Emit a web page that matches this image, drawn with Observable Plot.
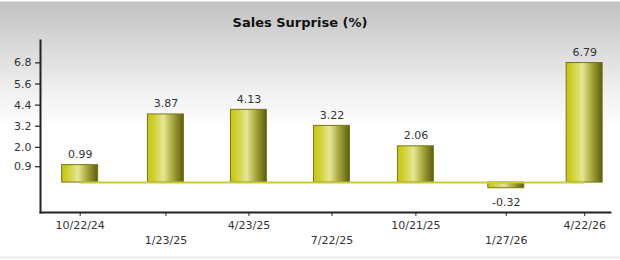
<!DOCTYPE html>
<html><head><meta charset="utf-8">
<script src="https://cdn.jsdelivr.net/npm/d3@7"></script>
<script src="https://cdn.jsdelivr.net/npm/@observablehq/plot@0.6"></script>
<style>
html,body{margin:0;padding:0;background:#fff;}
#wrap{position:relative;width:620px;height:260px;overflow:hidden;}
#title{position:absolute;top:15px;left:0;width:600px;text-align:center;font:bold 13px "DejaVu Sans",sans-serif;color:#111;line-height:16px;}
</style></head><body>
<div id="wrap"><div id="title">Sales Surprise (%)</div></div>
<script>
const dates = ["2024-10-22","2025-01-23","2025-04-23","2025-07-22","2025-10-21","2026-01-27","2026-04-22"];
const values = [0.99, 3.87, 4.13, 3.22, 2.06, -0.32, 6.79];
const yTicks = [0.9, 2.0, 3.2, 4.4, 5.6, 6.8];

const DAY = 864e5;
const halfDays = 19.5;
const data = dates.map((d, i) => ({date: new Date(d), value: values[i]}));
const dateObjs = data.map(d => d.date);
const rowA = dateObjs.filter((d, i) => i % 2 === 0);
const rowB = dateObjs.filter((d, i) => i % 2 === 1);
const fmt = d3.utcFormat("%-m/%-d/%y");

const chart = Plot.plot({
  width: 620,
  height: 260,
  marginLeft: 40,
  marginRight: 10,
  marginTop: 40,
  marginBottom: 48,
  style: {background: "linear-gradient(to bottom, #fff 0px, #fff 1px, #c2c2c2 2px, #d6d6d6 40px, #f4f4f4 100px, #fff 130px, #fff 256px, #e6e6e6 257px, #fff 259px)", fontFamily: "'DejaVu Sans', sans-serif", fontSize: "11px", color: "#333"},
  x: {type: "utc", domain: [new Date("2024-09-09"), new Date("2026-05-20")], axis: null},
  y: {domain: [-1.70, 8.07], axis: null},
  marks: [
    Plot.rectY(data, {
      x1: d => new Date(+d.date - halfDays * DAY),
      x2: d => new Date(+d.date + halfDays * DAY),
      y: "value",
      fill: "url(#barGrad)",
      stroke: "#77770f",
      strokeWidth: 1
    }),
    Plot.ruleY([0], {x1: dateObjs[0], x2: dateObjs[dateObjs.length - 1], stroke: "#c9c93a", strokeWidth: 2}),
    Plot.text(data.filter(d => d.value >= 0), {x: "date", y: "value", text: d => d.value.toFixed(2), lineAnchor: "bottom", dy: -7, fill: "#333", fontSize: 11}),
    Plot.text(data.filter(d => d.value < 0), {x: "date", y: "value", text: d => d.value.toFixed(2), lineAnchor: "top", dy: 10, fill: "#333", fontSize: 11}),
    Plot.axisY(yTicks, {label: null, tickSize: 5, tickPadding: 4, tickFormat: d3.format(".1f"), stroke: "#222", fill: "#333", fontSize: 11, strokeWidth: 1.2}),
    Plot.axisX(rowA, {label: null, tickSize: 4, tickPadding: 5, tickFormat: fmt, stroke: "#222", fill: "#333", fontSize: 11}),
    Plot.axisX(rowB, {label: null, tickSize: 4, tickPadding: 20, tickFormat: fmt, stroke: "#222", fill: "#333", fontSize: 11}),
    Plot.frame({anchor: "left", stroke: "#222", strokeWidth: 2}),
    Plot.frame({anchor: "bottom", stroke: "#222", strokeWidth: 2})
  ]
});

d3.select(chart).insert("defs", ":first-child").html(`
  <linearGradient id="barGrad" x1="0" y1="0" x2="1" y2="0">
    <stop offset="0" stop-color="#c4c417"/>
    <stop offset="0.2" stop-color="#d2d23a"/>
    <stop offset="0.45" stop-color="#e6e696"/>
    <stop offset="0.7" stop-color="#a8a83c"/>
    <stop offset="1" stop-color="#5c5c10"/>
  </linearGradient>`);

document.getElementById("wrap").insertBefore(chart, document.getElementById("title"));
</script>
</body></html>
